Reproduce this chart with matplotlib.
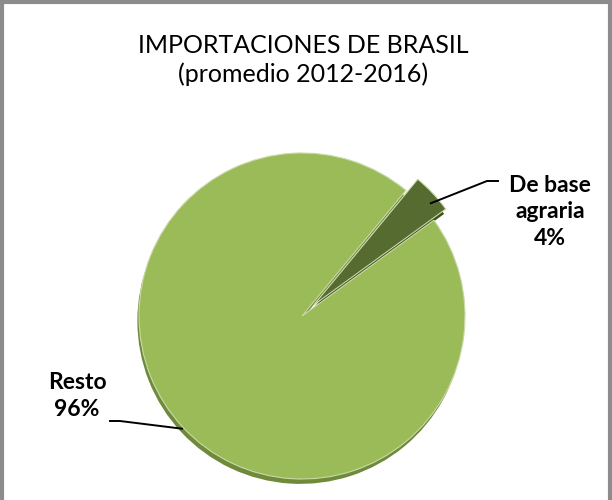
import matplotlib
matplotlib.use("Agg")
import matplotlib.pyplot as plt
import numpy as np

plt.rcParams['font.family'] = ['Lato', 'DejaVu Sans']

# datos
categorias = ['De base\nagraria', 'Resto']
valores = [4, 96]
colores = ['#566b2f', '#9bbb59']
titulo = 'IMPORTACIONES DE BRASIL\n(promedio 2012-2016)'

W, H = 612, 500
fig = plt.figure(figsize=(W / 100, H / 100), dpi=100)

# marco gris
fig.patches.append(plt.Rectangle((0.004, -0.01), 0.993, 1.006, transform=fig.transFigure,
                                 fill=False, ec='#8c8c8c', lw=3))

fig.text(303 / W, 1 - 60 / H, titulo, ha='center', va='center', fontsize=18, linespacing=1.3)

# ejes del pastel: centro (302,316) px, radio 163 px
R = 163
cx, cy = 302, 316
half = 200
ax = fig.add_axes([(cx - half) / W, (H - cy - half) / H, 2 * half / W, 2 * half / H])
lim = half / R

start = 36
explode = [0.1, 0]

# sombra (efecto 3d)
sombra, _ = ax.pie(valores, startangle=start, explode=explode, colors=['#3e4e20', '#6f8a3a'],
                   center=(-0.01, -0.03), radius=1, frame=True)
for w in sombra:
    w.set_zorder(1)

wedges, _ = ax.pie(valores, startangle=start, explode=explode, colors=colores,
                   wedgeprops=dict(edgecolor='#c9d9a8', linewidth=0.8), frame=True)
for w in wedges:
    w.set_zorder(2)
ax.set_xlim(-lim, lim)
ax.set_ylim(-lim, lim)
ax.set_aspect('equal')
ax.axis('off')

pct = [f'{v}%' for v in valores]

# etiqueta De base agraria
ang = np.deg2rad(start + 360 * valores[0] / 200 - 2)
p = (1.05 * np.cos(ang), 1.05 * np.sin(ang))
ax.annotate(categorias[0] + '\n' + pct[0], xy=p, xytext=((550 - cx) / R, (cy - 212) / R),
            ha='center', va='center', fontsize=16.5, fontweight='bold', linespacing=1.3,
            annotation_clip=False)
ax.plot([p[0], (487 - cx) / R, (498 - cx) / R], [p[1], (cy - 181) / R, (cy - 181) / R],
        color='black', lw=1.4, zorder=5, clip_on=False)

# etiqueta Resto
ang = np.deg2rad(start + 360 * valores[0] / 100 + 360 * valores[1] / 200)
p = (1.01 * np.cos(ang), 1.01 * np.sin(ang))
ax.annotate(categorias[1] + '\n' + pct[1], xy=p, xytext=((77 - cx) / R, (cy - 396) / R),
            ha='center', va='center', fontsize=16.5, fontweight='bold', linespacing=1.3,
            annotation_clip=False)
ax.plot([(110 - cx) / R, (120 - cx) / R, p[0]], [(cy - 421) / R, (cy - 421) / R, p[1]],
        color='black', lw=1.4, zorder=5, clip_on=False)

fig.savefig('out.png', dpi=100)
